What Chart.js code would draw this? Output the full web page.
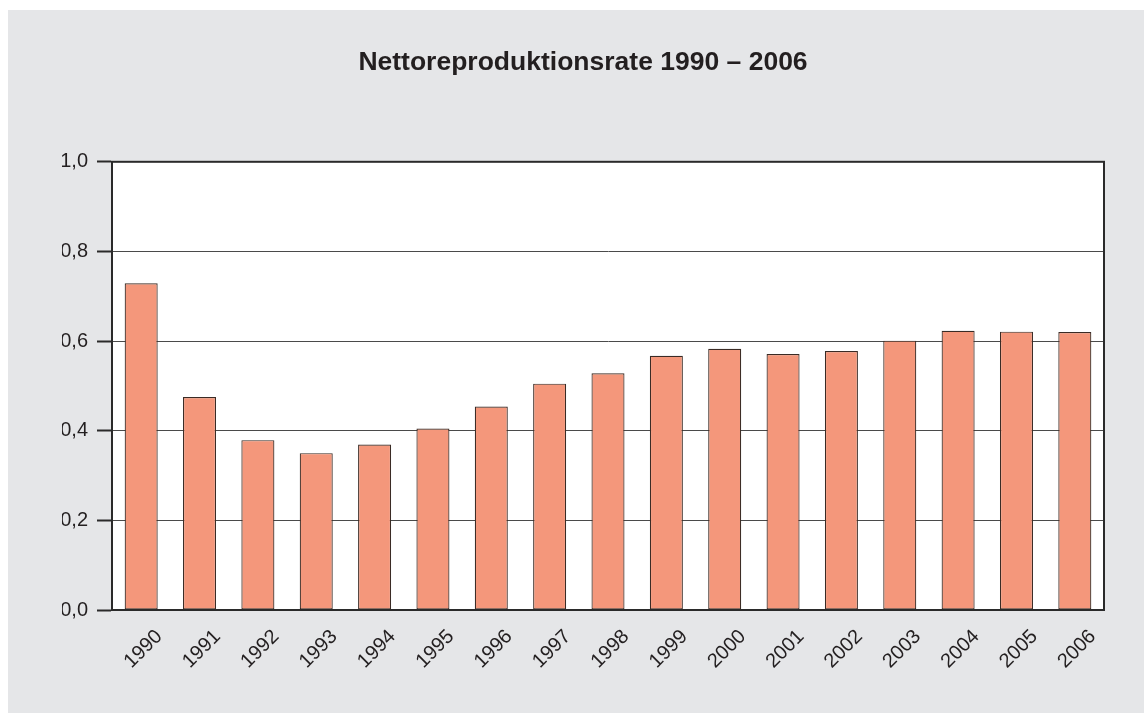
<!DOCTYPE html>
<html lang="de">
<head>
    <meta charset="UTF-8">
    <title>Nettoreproduktionsrate 1990 – 2006</title>
    <script src="https://cdn.jsdelivr.net/npm/chart.js@4"></script>
    <style>
        html, body {
            margin: 0;
            padding: 0;
            background: #ffffff;
        }
        .panel {
            position: absolute;
            left: 8px;
            top: 10px;
            width: 1136px;
            height: 703px;
        }
    </style>
</head>
<body>

<div class="panel">
    <canvas id="nrrChart" width="1136" height="703"></canvas>
</div>

<script>
    // Daten
    const years = ["1990", "1991", "1992", "1993", "1994", "1995", "1996", "1997", "1998",
                   "1999", "2000", "2001", "2002", "2003", "2004", "2005", "2006"];
    const nrrValues = [0.729, 0.475, 0.379, 0.350, 0.369, 0.405, 0.454, 0.505, 0.528,
                       0.567, 0.583, 0.571, 0.578, 0.601, 0.623, 0.621, 0.620];
    const yTicks = [0, 0.2, 0.4, 0.6, 0.8, 1.0];

    const fontFamily = '"Liberation Sans", Arial, Helvetica, sans-serif';
    const textColor = '#231f20';

    // Hintergrund und Rahmen der Zeichenfläche
    const panelPlugin = {
        id: 'panel',
        beforeDraw(chart) {
            const { ctx, chartArea: a } = chart;
            ctx.save();
            ctx.fillStyle = '#e5e6e8';
            ctx.fillRect(0, 0, chart.width, chart.height);
            ctx.fillStyle = '#ffffff';
            ctx.fillRect(a.left, a.top, a.right - a.left, a.bottom - a.top);
            ctx.restore();
        },
        afterDraw(chart) {
            const { ctx, chartArea: a } = chart;
            ctx.save();
            ctx.strokeStyle = '#2a2a2a';
            ctx.lineWidth = 2;
            ctx.strokeRect(a.left, a.top, a.right - a.left, a.bottom - a.top);
            ctx.restore();
        }
    };

    const ctx = document.getElementById('nrrChart').getContext('2d');
    new Chart(ctx, {
        type: 'bar',
        data: {
            labels: years,
            datasets: [{
                data: nrrValues,
                backgroundColor: '#f4977b',
                borderColor: '#3a2b25',
                borderWidth: 1.2,
                borderSkipped: false,
                categoryPercentage: 1.0,
                barPercentage: 0.566
            }]
        },
        options: {
            responsive: false,
            animation: false,
            layout: {
                // links 54 / rechts 40 -> Titel sitzt mittig ueber der Zeichenflaeche
                padding: { left: 54, right: 40, top: 0, bottom: 0 }
            },
            plugins: {
                legend: { display: false },
                tooltip: { enabled: false },
                title: {
                    display: true,
                    text: 'Nettoreproduktionsrate 1990 – 2006',
                    color: textColor,
                    font: { family: fontFamily, size: 26.5, weight: 'bold', lineHeight: 1.2 },
                    padding: { top: 37, bottom: 83 }
                }
            },
            scales: {
                x: {
                    grid: { display: false, drawTicks: false },
                    border: { display: true, color: '#2a2a2a', width: 2 },
                    ticks: {
                        color: textColor,
                        font: { family: fontFamily, size: 20 },
                        minRotation: 45,
                        maxRotation: 45,
                        labelOffset: 18,
                        padding: 15
                    },
                    afterFit(scale) { scale.height = 103; }
                },
                y: {
                    min: 0,
                    max: 1,
                    afterBuildTicks(scale) {
                        scale.ticks = yTicks.map(v => ({ value: v }));
                    },
                    grid: {
                        color: '#4a4a4a',
                        lineWidth: 1,
                        tickLength: 15,
                        tickColor: '#2a2a2a',
                        tickWidth: 2
                    },
                    border: { display: true, color: '#2a2a2a', width: 2 },
                    ticks: {
                        color: textColor,
                        font: { family: fontFamily, size: 20 },
                        padding: 9,
                        callback: v => v.toFixed(1).replace('.', ',')
                    },
                    afterFit(scale) { scale.width = 50; }
                }
            }
        },
        plugins: [panelPlugin]
    });
</script>

</body>
</html>
